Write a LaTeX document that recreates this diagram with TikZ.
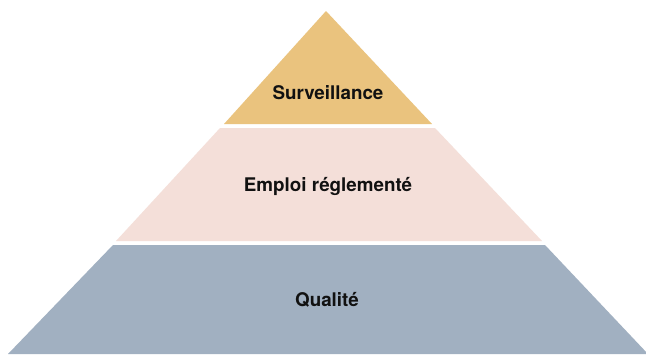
\documentclass[tikz,border=0pt]{standalone}
\usepackage{fontspec}
\setmainfont{TeX Gyre Heros}
\definecolor{ylw}{HTML}{EAC37E}
\definecolor{pnk}{HTML}{F4DFD9}
\definecolor{blu}{HTML}{A1B0C1}
\definecolor{txt}{HTML}{111111}
\begin{document}
\begin{tikzpicture}[x=1pt,y=-1pt,
  layer/.style={draw=none},
  lbl/.style={anchor=base,text=txt,font=\fontsize{18.8}{21}\selectfont\bfseries,inner sep=0pt}]
\useasboundingbox (0,0) rectangle (646,354);
\fill[white] (0,0) rectangle (646,354);
\fill[ylw,layer] (326,11) -- (432,124) -- (224,124) -- cycle;
\fill[pnk,layer] (220,128) -- (435,128) -- (542,241) -- (116,241) -- cycle;
\fill[blu,layer] (113,245) -- (545,245) -- (648,354) -- (8,354) -- cycle;
\node[lbl] (s) at (328,99.5) {Surveillance};
\node[lbl] (e) at (328,191.5) {Emploi réglementé};
\node[lbl] (q) at (327,306.5) {Qualité};
\end{tikzpicture}
\end{document}
